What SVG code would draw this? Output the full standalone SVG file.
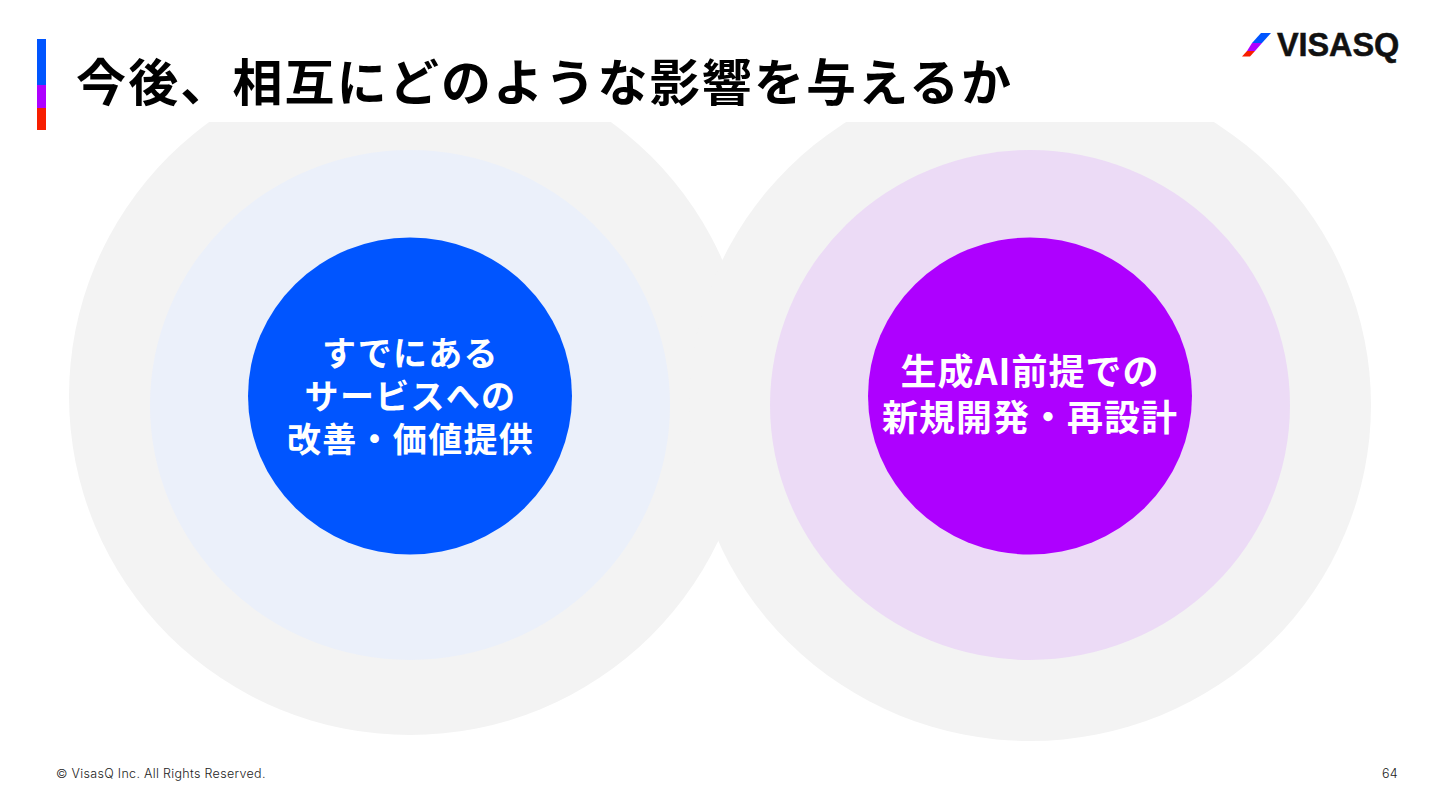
<svg xmlns="http://www.w3.org/2000/svg" width="1440" height="810" viewBox="0 0 1440 810">
<style>
.jp{font-family:"Noto Sans CJK JP","Noto Sans",sans-serif;font-weight:700}
.c{fill:#fff;font-size:34px;text-anchor:middle;letter-spacing:1.3px}
.r{font-size:36px;letter-spacing:1px}
.f{font-family:"Inter","Liberation Sans",sans-serif;font-size:12.5px;font-weight:300;letter-spacing:.31px;fill:#222}
</style>
<defs><clipPath id="below"><rect x="0" y="122" width="1440" height="688"/></clipPath></defs>
<rect width="1440" height="810" fill="#fff"/>
<g id="accent-bar">
<rect x="37" y="39" width="9" height="46" fill="#0055ff"/>
<rect x="37" y="85" width="9" height="23" fill="#ae00ff"/>
<rect x="37" y="108" width="9" height="22" fill="#f71e00"/>
</g>
<text id="title" class="jp" x="76" y="101" font-size="50" letter-spacing="2.15" fill="#000">今後、相互にどのような影響を与えるか</text>
<g id="logo">
<polygon points="1261,33 1271,33 1262,43 1252,43" fill="#0055ff"/>
<polygon points="1252,43 1262,43 1255,51 1247,51" fill="#ae00ff"/>
<polygon points="1247,51 1255,51 1250,56.500 1242,56.500" fill="#f71e00"/>
<text x="1277" y="55.500" font-family="'Liberation Sans',sans-serif" font-weight="700" font-size="32.500" letter-spacing="-0.1" fill="#111" stroke="#111" stroke-width="0.5">VISASQ</text>
</g>
<g id="node-left">
<ellipse cx="410" cy="396" rx="341" ry="339" fill="#f3f3f3" clip-path="url(#below)"/>
</g>
<g id="node-right">
<ellipse cx="1030" cy="405" rx="341" ry="336" fill="#f3f3f3" clip-path="url(#below)"/>
</g>
<g id="node-left-inner">
<ellipse cx="410" cy="405" rx="260" ry="255" fill="#ebf0fa"/>
<ellipse cx="410" cy="396" rx="162" ry="158.500" fill="#0055ff"/>
<text class="jp c" x="410.500" y="366">すでにある</text>
<text class="jp c" x="410.500" y="409">サービスへの</text>
<text class="jp c" x="410.500" y="452">改善・価値提供</text>
</g>
<g id="node-right-inner">
<ellipse cx="1030" cy="405" rx="260" ry="255" fill="#ecdbf6"/>
<ellipse cx="1030" cy="396" rx="162" ry="158.500" fill="#ae00ff"/>
<text class="jp c r" x="1030" y="385">生成AI前提での</text>
<text class="jp c r" x="1030" y="431">新規開発・再設計</text>
</g>
<g id="connectors"></g>
<text id="footer" class="f" x="56" y="778">© VisasQ Inc. All Rights Reserved.</text>
<text id="page" class="f" x="1398" y="778" text-anchor="end">64</text>
</svg>
